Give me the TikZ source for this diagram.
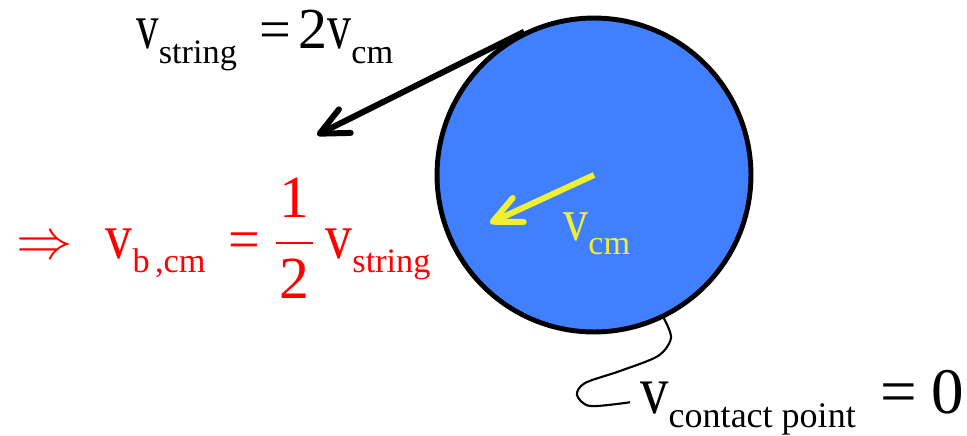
\RequirePackage{fix-cm}
\documentclass[tikz,border=0pt]{standalone}
\usepackage{fontspec}
\setmainfont{Liberation Serif}
\usepackage{amsmath}
\usepackage{graphicx}
\usetikzlibrary{arrows.meta}
\definecolor{ballblue}{RGB}{64,128,255}
\definecolor{cmyellow}{RGB}{240,240,50}
\newcommand{\velv}[1][0.95]{\scalebox{#1}[1.15]{v}}
\newcommand{\subtxt}[2][19.5]{\raisebox{-8pt}{\fontsize{#1}{20}\selectfont #2}}
\tikzset{
  eqn/.style={inner sep=0pt,anchor=base west,font=\fontsize{32}{36}\selectfont},
  vec/.style={line width=3.4pt,line cap=butt,-{Straight Barb[length=16pt,width=15pt,round]}}
}

\begin{document}
\begin{tikzpicture}[x=0.02cm,y=-0.02cm]
\useasboundingbox (0,0) rectangle (967,436);
\node[circle,draw,line width=2.8pt,fill=ballblue,minimum size=6.28cm,inner sep=0pt] (ball) at (594,175) {};
\coordinate (stringtip) at (317,135);
\coordinate (cmtip) at (490,223);
\draw[vec] (ball.116) -- (stringtip);
\draw[vec,draw=cmyellow,line width=3.4pt] (ball.center) -- (cmtip);
% labels
\node[eqn] (vstring) at (136,49) {\velv[0.8]\subtxt{string}\hspace{13pt}=\hspace{4pt}{\fontsize{33}{36}\selectfont 2}\velv[0.85]\subtxt{cm}};
\node[eqn,red] (vbcm) at (16,258) {$\Rightarrow$\hspace{19pt}\velv\subtxt{b\hspace{3pt},cm}\hspace{13pt}=\hspace{8pt}{\fontsize{34}{36}\selectfont$\dfrac{\text{\makebox[21pt]{1}}}{\text{\makebox[21pt]{2}}}$}\hspace{6pt}\velv\subtxt{string}};
\node[eqn,cmyellow,font=\fontsize{30}{32}\selectfont] (vcm) at (563,240) {\velv\subtxt{cm}};
\node[eqn,font=\fontsize{34}{36}\selectfont] (vcp) at (640,413) {\velv\subtxt[20.5]{contact point}\hspace{14pt}{\fontsize{37}{40}\selectfont=\hspace{8pt}0}};
\draw[line width=1.2pt] plot[smooth] coordinates {(ball.-64) (671,338) (658,356) (620,371) (585,383) (577,395) (590,406) ([xshift=-0.2cm]vcp.west)};
\end{tikzpicture}
\end{document}
